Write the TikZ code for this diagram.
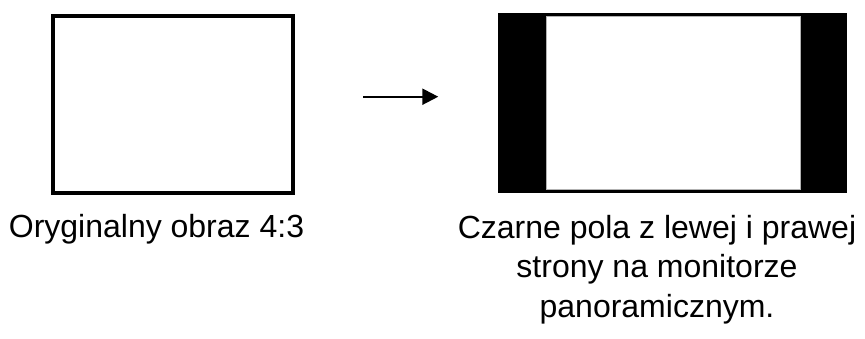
\documentclass[tikz,border=0pt]{standalone}
\usepackage{fontspec}
\setmainfont{Liberation Sans}
\usetikzlibrary{arrows.meta}
\begin{document}
\begin{tikzpicture}[x=1pt,y=1pt,
  lbl/.style={inner sep=0pt,anchor=base,font=\fontsize{32}{39.5}\selectfont,align=center},
  frame/.style={draw=black,line width=4pt,fill=white}]
\useasboundingbox (0,0) rectangle (865,-338);
% left: original 4:3
\path[frame] (53,-16) rectangle (293,-193);
% right: widescreen with pillar boxes
\fill[black] (498.3,-13.3) rectangle (846.7,-192.7);
\fill[white] (545.7,-16) rectangle (800,-189.3);
\draw[gray!60,line width=0.4pt] (545.7,-16) rectangle (800,-189.3);
% arrow
\coordinate (aS) at (363,-96.7);
\coordinate (aE) at (438.3,-96.7);
\draw[line width=2.2pt,-{Triangle[length=16pt,width=16pt]}] (aS) -- (aE);
% labels
\node[lbl] (t1) at (156.5,-237.3) {Oryginalny obraz 4:3};
\node[lbl] (t2) at (657,-317.3) {Czarne pola z lewej i prawej\\strony na monitorze\\panoramicznym.};
\end{tikzpicture}
\end{document}
